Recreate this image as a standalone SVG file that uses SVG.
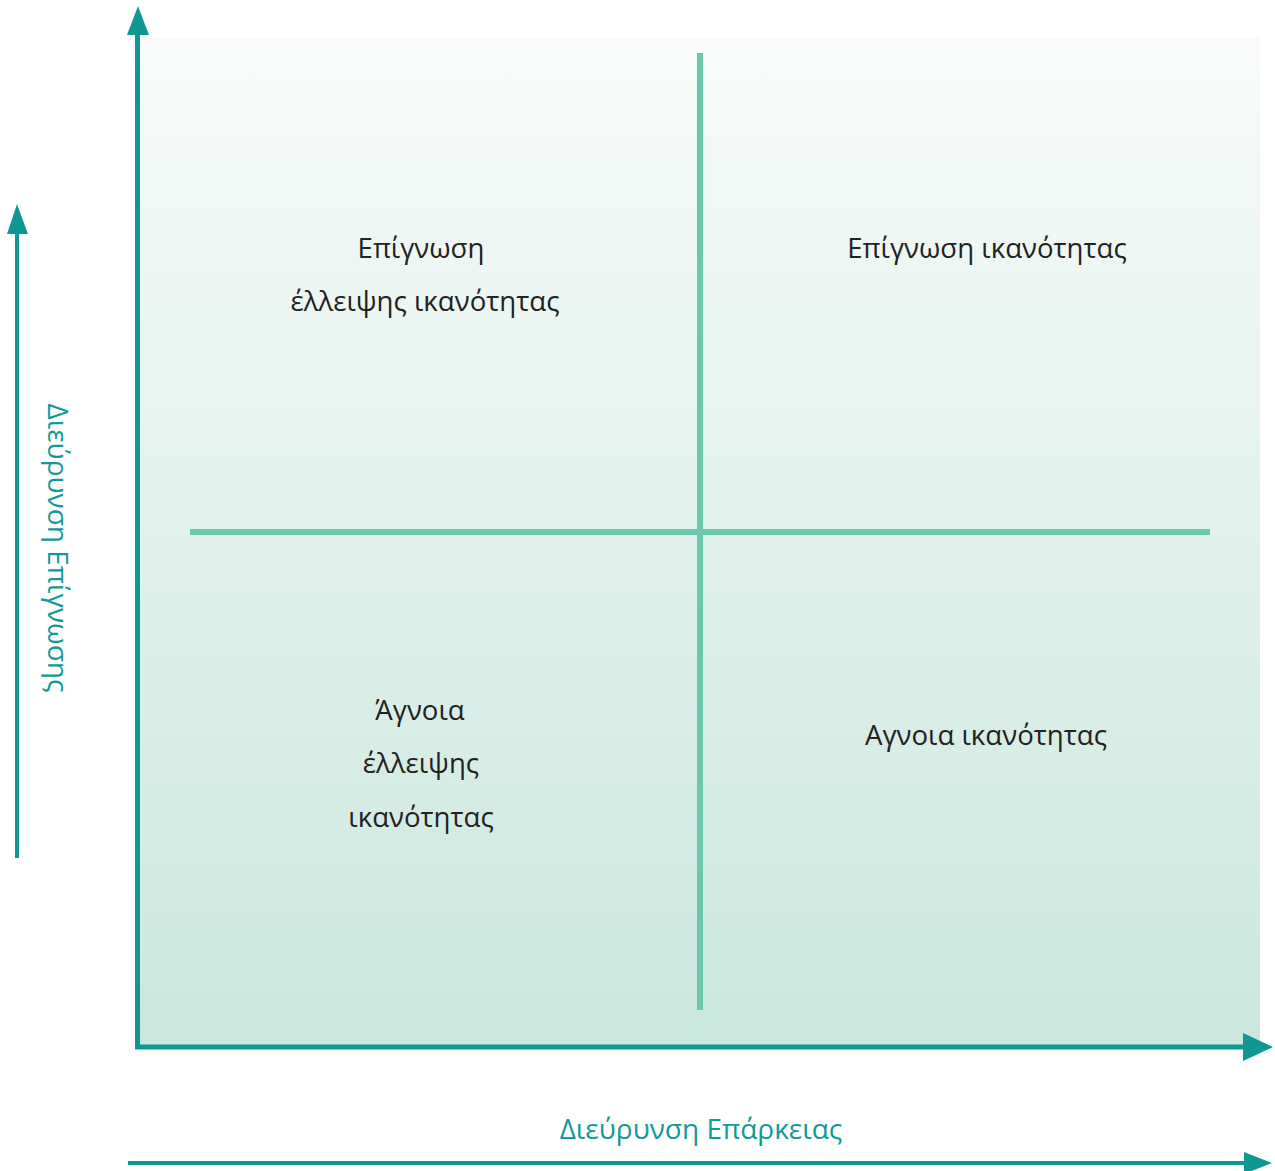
<svg xmlns="http://www.w3.org/2000/svg" width="1275" height="1171" viewBox="0 0 1275 1171">
<defs>
<linearGradient id="bg" x1="0" y1="0" x2="0" y2="1">
<stop offset="0" stop-color="#f8fbf9"/>
<stop offset="1" stop-color="#c9e7de"/>
</linearGradient>
<style>
.axis{stroke:#0f9793;stroke-width:5;fill:none}
.side{stroke:#0f9793;stroke-width:4;fill:none}
.head{fill:#0f9793}
.quad{stroke:#6dc7ad;stroke-width:6;fill:none}
.lbl{font-family:"Open Sans","Noto Sans",sans-serif;font-size:27.6px;fill:#222;text-anchor:middle}
.ax{font-family:"Open Sans","Noto Sans",sans-serif;font-size:28px;fill:#119a97;text-anchor:middle}
</style>
</defs>
<rect x="138" y="37" width="1122" height="1009" fill="url(#bg)"/>
<g id="connectors">
<line class="quad" x1="700" y1="53" x2="700" y2="1010"/>
<line class="quad" x1="190" y1="532" x2="1210" y2="532"/>
<line class="axis" x1="137.5" y1="1049" x2="137.5" y2="30"/>
<polygon class="head" points="138,6 127,35 149,35"/>
<line class="axis" x1="135" y1="1047" x2="1250" y2="1047"/>
<polygon class="head" points="1273,1047 1243,1033 1243,1061"/>
<line class="side" x1="17" y1="858" x2="17" y2="228"/>
<polygon class="head" points="17,204 7,234 28,234"/>
<line class="side" x1="128" y1="1163" x2="1250" y2="1163"/>
<polygon class="head" points="1272,1163 1244,1152 1244,1174"/>
</g>
<g id="q-top-left">
<text class="lbl" x="421" y="258">Επίγνωση</text>
<text class="lbl" x="425" y="311">έλλειψης ικανότητας</text>
</g>
<g id="q-top-right">
<text class="lbl" x="987" y="258">Επίγνωση ικανότητας</text>
</g>
<g id="q-bottom-left">
<text class="lbl" x="420" y="720">Άγνοια</text>
<text class="lbl" x="421" y="773">έλλειψης</text>
<text class="lbl" x="421" y="827">ικανότητας</text>
</g>
<g id="q-bottom-right">
<text class="lbl" x="986" y="745">Αγνοια ικανότητας</text>
</g>
<g id="axis-x-label">
<text class="ax" x="701" y="1139">Διεύρυνση Επάρκειας</text>
</g>
<g id="axis-y-label">
<text class="ax" transform="translate(48,548) rotate(90)" x="0" y="0">Διεύρυνση Επίγνωσης</text>
</g>
</svg>
